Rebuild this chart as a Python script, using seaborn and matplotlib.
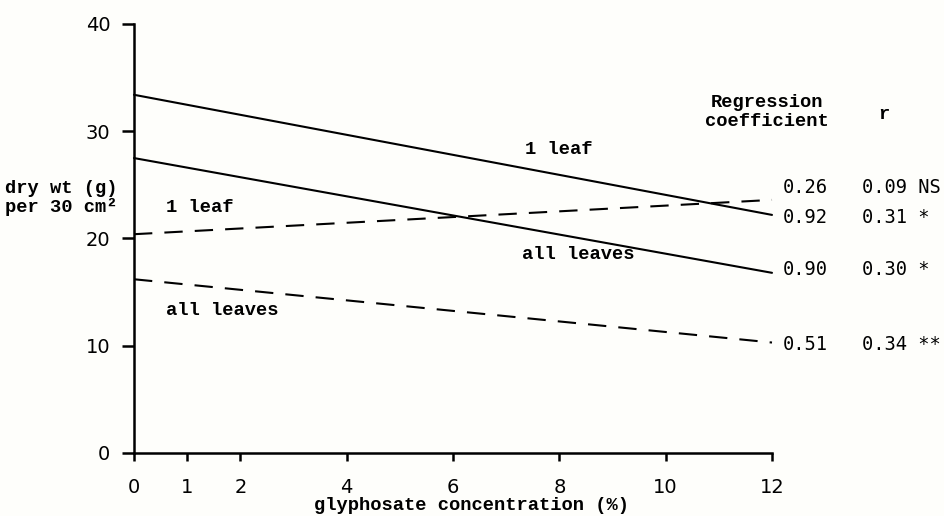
import matplotlib
matplotlib.use("Agg")
import matplotlib.pyplot as plt
import seaborn as sns
import pandas as pd

# ---- data ----
conc = [0, 12]
solid_1leaf = [33.4, 22.2]
solid_allleaves = [27.5, 16.8]
dashed_1leaf = [20.4, 23.6]
dashed_allleaves = [16.2, 10.3]

xticks = [0, 1, 2, 4, 6, 8, 10, 12]
yticks = [0, 10, 20, 30, 40]

reg_coef = ["0.26", "0.92", "0.90", "0.51"]
r_vals = ["0.09 NS", "0.31 *", "0.30 *", "0.34 **"]
row_y = [24.8, 22.0, 17.1, 10.1]

rows = []
for name, vals, sty in [("s1", solid_1leaf, "solid"), ("s2", solid_allleaves, "solid"),
                        ("d1", dashed_1leaf, "dashed"), ("d2", dashed_allleaves, "dashed")]:
    for x, y in zip(conc, vals):
        rows.append({"conc": x, "wt": y, "series": name, "sty": sty})
df = pd.DataFrame(rows)

sns.set_theme(style="ticks")
plt.rcParams["font.family"] = ["Liberation Mono", "DejaVu Sans Mono"]
bg = "#fefefb"
fig = plt.figure(figsize=(9.44, 5.16), dpi=100, facecolor=bg)
ax = fig.add_axes([134/944, 1-453/516, (772-134)/944, (453-24)/516])
ax.set_facecolor(bg)

sns.lineplot(data=df, x="conc", y="wt", units="series", style="sty", estimator=None,
             dashes={"solid": "", "dashed": (8.8, 5.8)}, color="black", lw=1.5,
             legend=False, ax=ax)

ax.set_xlim(0, 12)
ax.set_ylim(0, 40)
ax.set_xticks(xticks)
ax.set_yticks(yticks)
ax.set_xticklabels([str(t) for t in xticks], family=["DejaVu Sans"])
ax.set_yticklabels([str(t) for t in yticks], family=["DejaVu Sans"])
ax.tick_params(axis="both", width=1.8, labelsize=14, color="black", labelcolor="black")
ax.tick_params(axis="y", length=9, pad=8)
ax.tick_params(axis="x", length=6, pad=12)
for s in ["top", "right"]:
    ax.spines[s].set_visible(False)
for s in ["left", "bottom"]:
    ax.spines[s].set_linewidth(1.8)
    ax.spines[s].set_color("black")
ax.set_xlabel("")
ax.set_ylabel("")
for l in ax.get_lines():
    l.set_clip_on(False)

lab = dict(fontsize=13.5, fontweight="bold", color="black")
ax.text(7.35, 28.3, "1 leaf", ha="left", va="center", **lab)
ax.text(0.6, 22.9, "1 leaf", ha="left", va="center", **lab)
ax.text(7.3, 18.5, "all leaves", ha="left", va="center", **lab)
ax.text(0.6, 13.3, "all leaves", ha="left", va="center", **lab)

ax.text(11.9, 31.8, "Regression\ncoefficient", ha="center", va="center",
        linespacing=1.1, clip_on=False, **lab)
ax.text(14.1, 31.6, "r", ha="center", va="center", clip_on=False, **lab)

num = dict(fontsize=13.5, color="black", family=["DejaVu Sans Mono"])
for c, r, y in zip(reg_coef, r_vals, row_y):
    ax.text(12.2, y, c, ha="left", va="center", clip_on=False, **num)
    ax.text(13.7, y, r, ha="left", va="center", clip_on=False, **num)

fig.text(471/944, 1-505/516, "glyphosate concentration (%)", ha="center", va="center", **lab)
fig.text(5/944, 1-198/516, "dry wt (g)\nper 30 cm\u00b2", ha="left", va="center",
         linespacing=1.0, **lab)

fig.savefig("out.png", dpi=100, facecolor=bg)
